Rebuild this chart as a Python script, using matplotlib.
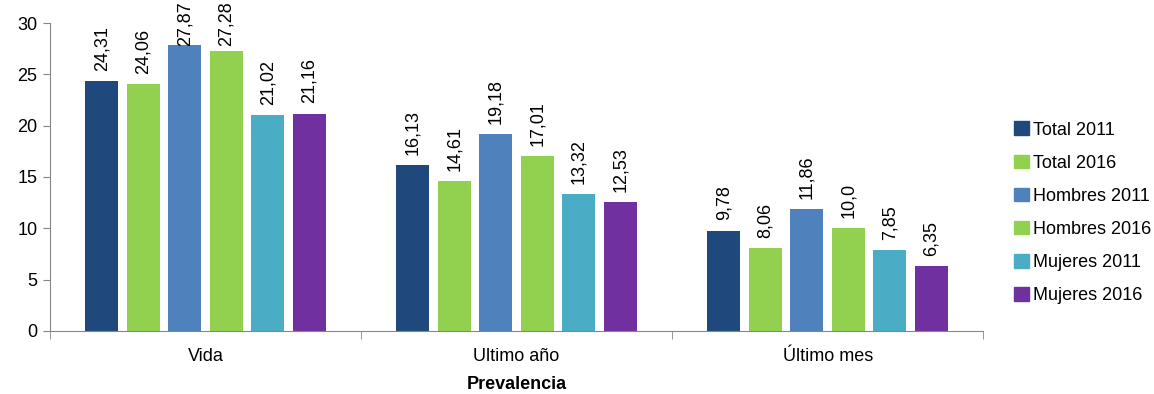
import numpy as np
import matplotlib.pyplot as plt
from matplotlib.patches import Patch

plt.rcParams['font.family'] = ['Liberation Sans', 'DejaVu Sans']

categories = ['Vida', 'Ultimo año', 'Último mes']
series = ['Total 2011', 'Total 2016', 'Hombres 2011', 'Hombres 2016', 'Mujeres 2011', 'Mujeres 2016']
values = [
    [24.31, 16.13, 9.78],
    [24.06, 14.61, 8.06],
    [27.87, 19.18, 11.86],
    [27.28, 17.01, 10.0],
    [21.02, 13.32, 7.85],
    [21.16, 12.53, 6.35],
]
labels = [
    ['24,31', '16,13', '9,78'],
    ['24,06', '14,61', '8,06'],
    ['27,87', '19,18', '11,86'],
    ['27,28', '17,01', '10,0'],
    ['21,02', '13,32', '7,85'],
    ['21,16', '12,53', '6,35'],
]
colors = ['#1F497D', '#92D050', '#4F81BD', '#92D050', '#4BACC6', '#7030A0']

fig = plt.figure(figsize=(11.54, 3.94), dpi=100)
ax = fig.add_axes([0.0433, 0.16, 0.8087, 0.7816])

x = np.arange(len(categories))
pitch = 0.1334
width = 0.106
for i, s in enumerate(series):
    pos = x + (i - 2.5) * pitch
    ax.bar(pos, values[i], width=width, color=colors[i], label=s)
    for p, v, t in zip(pos, values[i], labels[i]):
        ax.text(p, min(v + 1.0, 27.75), t, rotation=90, ha='center', va='bottom',
                fontsize=13, clip_on=False)

ax.set_xlim(-0.5, 2.5)
ax.set_ylim(0, 30)
ax.set_yticks(range(0, 31, 5))
ax.set_xticks(x)
ax.set_xticklabels(categories)
ax.set_xticks([-0.5, 0.5, 1.5, 2.5], minor=True)
ax.tick_params(axis='x', which='major', length=0, pad=12, labelsize=13)
ax.tick_params(axis='x', which='minor', length=6, color='#868686', direction='out')
ax.tick_params(axis='y', length=5, color='#868686', labelsize=13, pad=4)
for side in ['top', 'right']:
    ax.spines[side].set_visible(False)
for side in ['left', 'bottom']:
    ax.spines[side].set_color('#868686')
ax.set_xlabel('Prevalencia', fontweight='bold', fontsize=13, labelpad=8)

handles = [Patch(color=c) for c in colors]
fig.legend(handles, series, loc='upper left', bbox_to_anchor=(0.865, 0.733),
           frameon=False, fontsize=13, handlelength=0.8, handleheight=0.8,
           handletextpad=0.25, labelspacing=0.88)

fig.savefig('out.png', dpi=100)
